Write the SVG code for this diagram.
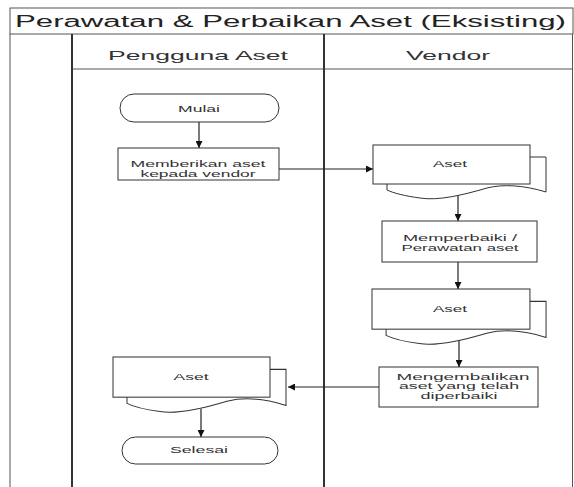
<svg xmlns="http://www.w3.org/2000/svg" xmlns:xlink="http://www.w3.org/1999/xlink" width="574" height="487" viewBox="0 0 574 487">
<style>
.frame{fill:none;stroke:#555;stroke-width:1}
.lane{fill:none;stroke:#333;stroke-width:2}
.shape{fill:#fff;stroke:#333;stroke-width:1}
.conn{fill:none;stroke:#222;stroke-width:1.2}
.t{font-family:"Liberation Sans",Arial,sans-serif;fill:#333;text-anchor:middle}
.node{font-size:9px}
.small{font-size:8.5px}
.hdr{font-size:13px}
.title{font-size:16px;text-anchor:start;fill:#222}
</style>
<defs>
<marker id="ah" viewBox="0 0 10 10" refX="10" refY="5" markerWidth="7" markerHeight="7" markerUnits="userSpaceOnUse" orient="auto">
<path d="M0,0 L10,5 L0,10 Z" fill="#111"/>
</marker>
<g id="docshape">
<path class="shape" d="M14,12 H173 V47 C150,40 130,39 114,43 C90,50 65,56 47,53 C32,51 20,48 14,45 Z"/>
<rect class="shape" x="0" y="0" width="157" height="39"/>
</g>
</defs>
<rect x="0" y="0" width="574" height="487" fill="#fff"/>
<g id="pool">
<rect x="10" y="8" width="563" height="26" fill="#fff" stroke="#555" stroke-width="1"/>
<text class="t title" x="15" y="27" textLength="551" lengthAdjust="spacingAndGlyphs">Perawatan &amp; Perbaikan Aset (Eksisting)</text>
<line class="frame" x1="10" y1="34" x2="10" y2="487"/>
<line class="frame" x1="572.5" y1="34" x2="572.5" y2="487" stroke="#bbb"/>
<line class="frame" x1="72" y1="69" x2="573" y2="69"/>
<line class="lane" x1="72" y1="34" x2="72" y2="487"/>
<line class="lane" x1="324" y1="34" x2="324" y2="487"/>
<text class="t hdr" x="198" y="60" textLength="180" lengthAdjust="spacingAndGlyphs">Pengguna Aset</text>
<text class="t hdr" x="448" y="60" textLength="84" lengthAdjust="spacingAndGlyphs">Vendor</text>
</g>
<g id="connectors">
<line class="conn" x1="199" y1="122" x2="199" y2="148" marker-end="url(#ah)"/>
<line class="conn" x1="279" y1="169" x2="373" y2="169" marker-end="url(#ah)"/>
<line class="conn" x1="458" y1="194" x2="458" y2="221" marker-end="url(#ah)"/>
<line class="conn" x1="458" y1="262" x2="458" y2="289" marker-end="url(#ah)"/>
<line class="conn" x1="459" y1="339" x2="459" y2="367" marker-end="url(#ah)"/>
<line class="conn" x1="379" y1="387" x2="288" y2="387" marker-end="url(#ah)"/>
<line class="conn" x1="201" y1="409" x2="201" y2="437" marker-end="url(#ah)"/>
</g>
<g id="mulai">
<rect class="shape" x="120" y="94" width="159" height="28" rx="14" ry="14"/>
<text class="t node" x="199" y="112" textLength="42" lengthAdjust="spacingAndGlyphs">Mulai</text>
</g>
<g id="memberikan">
<rect class="shape" x="118" y="148" width="161" height="32"/>
<text class="t node" x="198" y="166.5" textLength="135" lengthAdjust="spacingAndGlyphs">Memberikan aset</text>
<text class="t node" x="198" y="176.5" textLength="115" lengthAdjust="spacingAndGlyphs">kepada vendor</text>
</g>
<g id="aset1">
<use xlink:href="#docshape" href="#docshape" transform="translate(373,145)"/>
<text class="t node" x="450" y="167" textLength="34" lengthAdjust="spacingAndGlyphs">Aset</text>
</g>
<g id="memperbaiki">
<rect class="shape" x="382" y="221" width="155" height="41"/>
<text class="t node" x="460" y="241" textLength="114" lengthAdjust="spacingAndGlyphs">Memperbaiki /</text>
<text class="t node" x="460" y="251" textLength="117" lengthAdjust="spacingAndGlyphs">Perawatan aset</text>
</g>
<g id="aset2">
<use xlink:href="#docshape" href="#docshape" transform="translate(372,289) scale(1.006,1.03)"/>
<text class="t node" x="450" y="312" textLength="34" lengthAdjust="spacingAndGlyphs">Aset</text>
</g>
<g id="mengembalikan">
<rect class="shape" x="379" y="367" width="159" height="40"/>
<text class="t small" x="463" y="379.5" textLength="133" lengthAdjust="spacingAndGlyphs">Mengembalikan</text>
<text class="t small" x="459" y="389" textLength="120" lengthAdjust="spacingAndGlyphs">aset yang telah</text>
<text class="t small" x="459" y="399" textLength="77" lengthAdjust="spacingAndGlyphs">diperbaiki</text>
</g>
<g id="aset3">
<use xlink:href="#docshape" href="#docshape" transform="translate(113,357) scale(1,1.03)"/>
<text class="t node" x="191" y="380" textLength="35" lengthAdjust="spacingAndGlyphs">Aset</text>
</g>
<g id="selesai">
<rect class="shape" x="122" y="437" width="156" height="27" rx="13.5" ry="13.5"/>
<text class="t node" x="199" y="453" textLength="58" lengthAdjust="spacingAndGlyphs">Selesai</text>
</g>
</svg>
